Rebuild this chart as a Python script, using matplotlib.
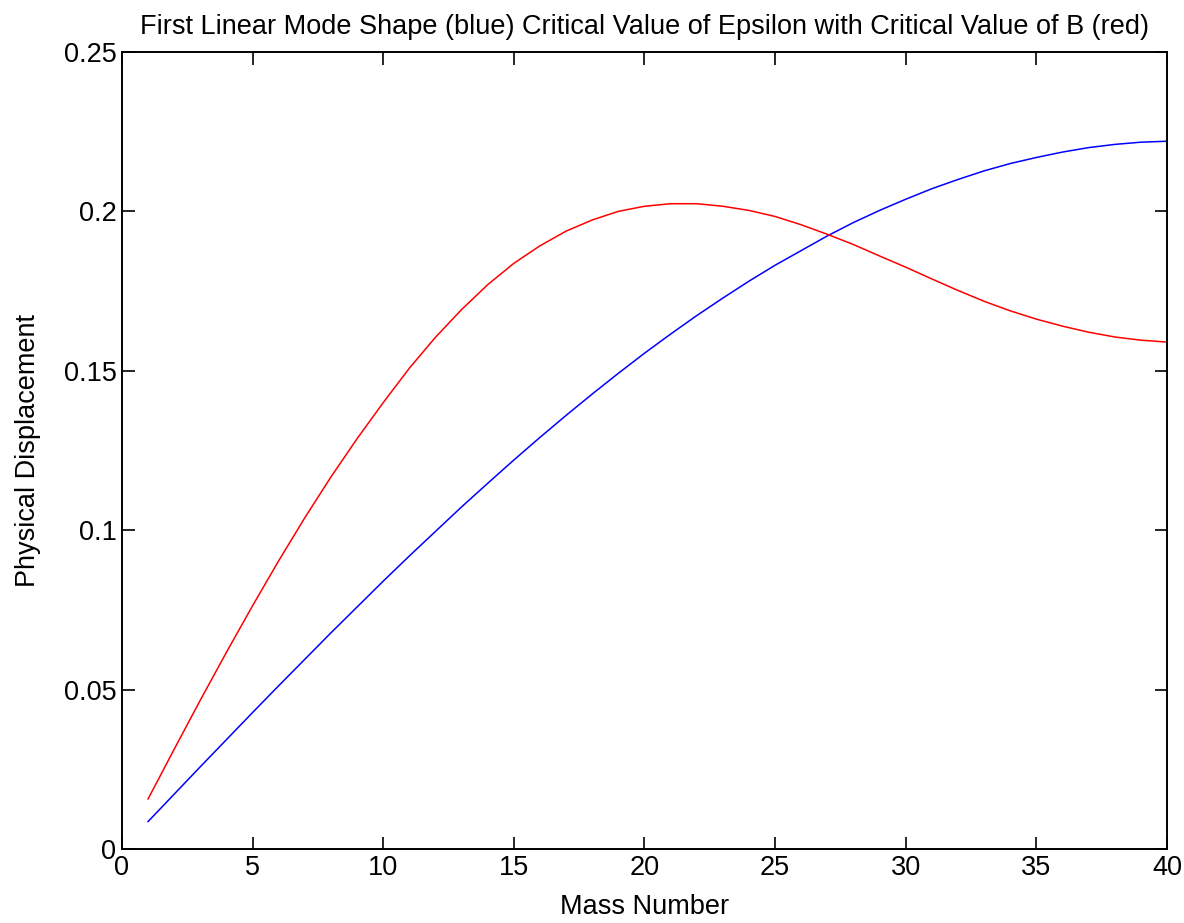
import matplotlib
matplotlib.use("Agg")
from matplotlib import pyplot as plt

plt.rcParams['font.family'] = ['Liberation Sans', 'DejaVu Sans']

# mass number 1..40
mass = list(range(1, 41))

# first linear mode shape (blue)
mode_shape = [0.0086, 0.0172, 0.0258, 0.0343, 0.0428, 0.0512, 0.0595, 0.0678, 0.0759, 0.0840,
              0.0919, 0.0996, 0.1073, 0.1147, 0.1220, 0.1291, 0.1360, 0.1427, 0.1492, 0.1555,
              0.1615, 0.1673, 0.1728, 0.1781, 0.1831, 0.1877, 0.1923, 0.1965, 0.2003, 0.2038,
              0.2071, 0.2100, 0.2127, 0.2150, 0.2169, 0.2186, 0.2200, 0.2210, 0.2217, 0.2220]

# critical epsilon with critical B (red)
critical = [0.0157, 0.0313, 0.0467, 0.0617, 0.0763, 0.0904, 0.1039, 0.1167, 0.1287, 0.1400,
            0.1508, 0.1605, 0.1692, 0.1770, 0.1837, 0.1892, 0.1938, 0.1973, 0.2000, 0.2016,
            0.2024, 0.2024, 0.2016, 0.2003, 0.1984, 0.1958, 0.1928, 0.1896, 0.1860, 0.1825,
            0.1788, 0.1752, 0.1718, 0.1688, 0.1662, 0.1640, 0.1621, 0.1606, 0.1596, 0.1590]

x_ticks = [0, 5, 10, 15, 20, 25, 30, 35, 40]
y_ticks = [0, 0.05, 0.1, 0.15, 0.2, 0.25]
y_labels = ['0', '0.05', '0.1', '0.15', '0.2', '0.25']

fig = plt.figure(figsize=(11.84, 9.23), dpi=100)
ax = fig.add_axes([0.103, 0.0802, 0.8826, 0.8635])

ax.plot(mass, mode_shape, color='#0000ff', lw=1.1)
ax.plot(mass, critical, color='#ff0000', lw=1.1)

ax.set_xlim(0, 40)
ax.set_ylim(0, 0.25)
ax.set_xticks(x_ticks)
ax.set_yticks(y_ticks)
ax.set_yticklabels(y_labels)
ax.tick_params(direction='in', length=9, width=1.2, top=True, right=True,
               labelsize=19.5, pad=4)
for s in ax.spines.values():
    s.set_linewidth(1.4)

ax.set_title('First Linear Mode Shape (blue) Critical Value of Epsilon with Critical Value of B (red)',
             fontsize=19.5, pad=13)
ax.set_xlabel('Mass Number', fontsize=19.5, labelpad=10)
ax.set_ylabel('Physical Displacement', fontsize=19.5, labelpad=16)

fig.savefig('out.png', dpi=100)
